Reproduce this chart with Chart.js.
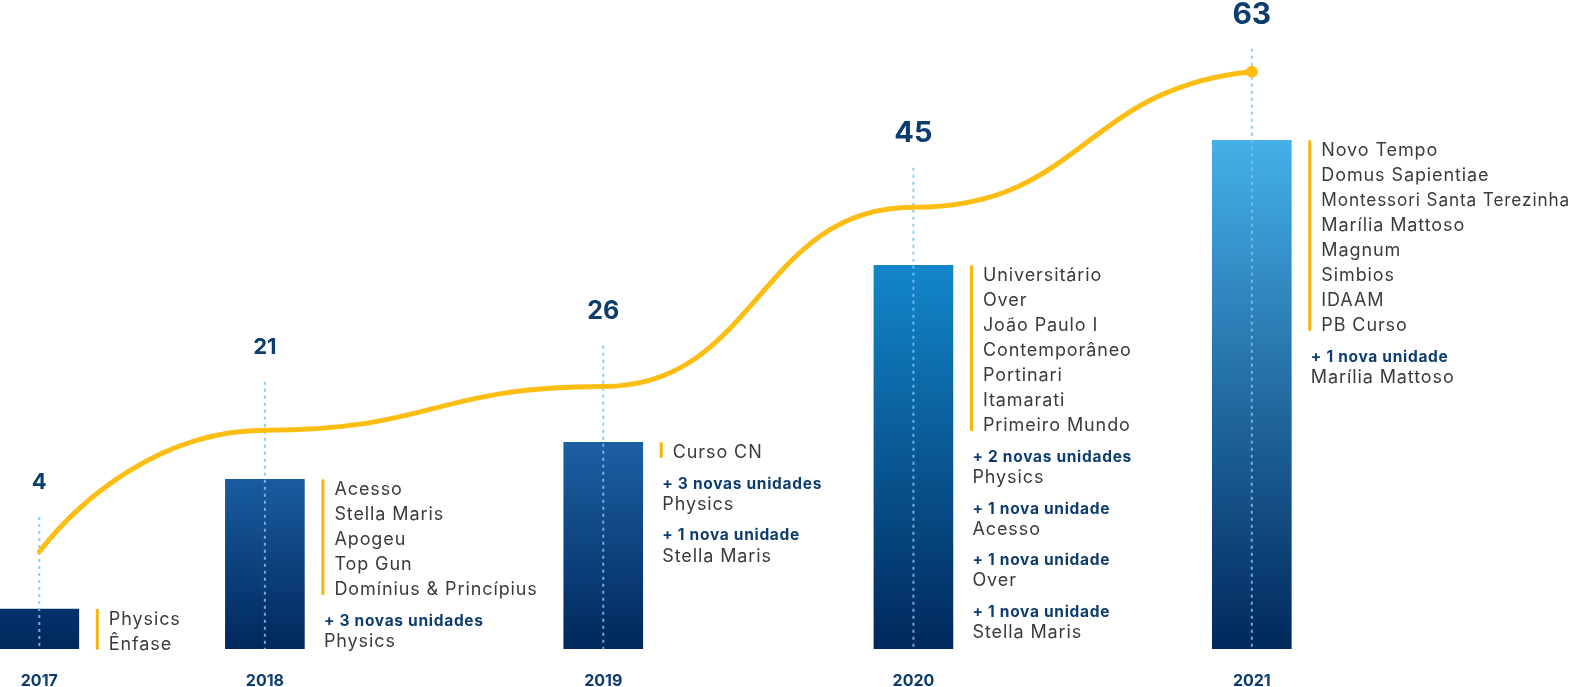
<!DOCTYPE html>
<html lang="pt-BR">
<head>
<meta charset="utf-8">
<title>Evolução das unidades</title>
<script src="https://cdn.jsdelivr.net/npm/chart.js@4.4.1/dist/chart.umd.min.js"></script>
<style>
  html, body { margin: 0; padding: 0; background: #ffffff; }
  #wrap { position: relative; width: 1571px; height: 687px; }
</style>
</head>
<body>
<div id="wrap"><canvas id="unitsChart"></canvas></div>
<script>
const years = ['2017', '2018', '2019', '2020', '2021'];
const unitCounts = [4, 21, 26, 45, 63];               // totals printed above each column
const barLevels = [4.95, 21, 25.6, 47.5, 63];         // bar heights as drawn (design is not strictly to scale)
const trendLevels = [12.05, 27.1, 32.5, 54.7, 71.5];  // yellow growth curve

const newSchools = [
    ['Physics', 'Ênfase'],
    ['Acesso', 'Stella Maris', 'Apogeu', 'Top Gun', 'Domínius & Princípius'],
    ['Curso CN'],
    ['Universitário', 'Over', 'João Paulo I', 'Contemporâneo', 'Portinari', 'Itamarati', 'Primeiro Mundo'],
    ['Novo Tempo', 'Domus Sapientiae', 'Montessori Santa Terezinha', 'Marília Mattoso', 'Magnum', 'Simbios', 'IDAAM', 'PB Curso']
];
const expansionCounts = [
    [],
    ['+ 3 novas unidades'],
    ['+ 3 novas unidades', '+ 1 nova unidade'],
    ['+ 2 novas unidades', '+ 1 nova unidade', '+ 1 nova unidade', '+ 1 nova unidade'],
    ['+ 1 nova unidade']
];
const expansionSchools = [
    [],
    ['Physics'],
    ['Physics', 'Stella Maris'],
    ['Physics', 'Acesso', 'Over', 'Stella Maris'],
    ['Marília Mattoso']
];

// --- Layout / style (the original spaces its columns unevenly) ---
const columnSlots = [0, 8, 20, 31, 43];
const totalFontSizes = [22, 22, 25, 29, 30];        // totals grow with the year
const totalLift = [128, 133.7, 132.5, 133.8, 127.5]; // total label above bar top
const barTopColors = ['#06326b', '#1a5ca0', '#1c60a4', '#1387ca', '#45b0e9'];

const navy = '#0d3c6e';
const barBottom = '#00285c';
const textGrey = '#3b3b3b';
const gold = '#fdbe14';
const accent = '#f6b60b';
const FONT = 'Inter, "Open Sans", sans-serif';

function barGradient(c) {
    const chart = c.chart;
    if (!chart.chartArea || !c.parsed) return barBottom;
    const y = chart.scales.y;
    const g = chart.ctx.createLinearGradient(0, y.getPixelForValue(c.parsed.y), 0, y.getPixelForValue(0));
    g.addColorStop(0, barTopColors[c.dataIndex]);
    g.addColorStop(1, barBottom);
    return g;
}

// flat-shouldered S curves between the yearly points
function shapeTrend(meta) {
    const pts = meta.data;
    for (let i = 0; i < pts.length - 1; i++) {
        const a = pts[i], b = pts[i + 1];
        const dx = b.x - a.x, dy = b.y - a.y;
        if (i === 0) {
            a.cp2x = a.x + dx * 0.18;
            a.cp2y = a.y + dy * 0.43;
        } else {
            a.cp2x = a.x + dx * 0.5;
            a.cp2y = a.y;
        }
        b.cp1x = b.x - dx * (i === 0 ? 0.46 : 0.5);
        b.cp1y = (i === pts.length - 2) ? b.y - dy * 0.12 : b.y;
    }
    meta.dataset._pointsUpdated = true;
}

function drawGuides(chart, meta) {
    const ctx = chart.ctx;
    const bottom = chart.chartArea.bottom;
    ctx.save();
    ctx.strokeStyle = '#7cc3ee';
    ctx.globalAlpha = 0.85;
    ctx.lineWidth = 2;
    ctx.setLineDash([3, 4]);
    meta.data.forEach((bar, i) => {
        ctx.beginPath();
        ctx.moveTo(bar.x, bar.y - totalLift[i] + 36);
        ctx.lineTo(bar.x, bottom);
        ctx.stroke();
    });
    ctx.restore();
}

function drawTexts(chart) {
    const ctx = chart.ctx;
    const bars = chart.getDatasetMeta(1).data;
    ctx.save();
    bars.forEach((bar, i) => {
        const top = bar.y;
        const right = bar.x + bar.width / 2;
        const fit = x => chart.width - x - 1;

        ctx.fillStyle = navy;
        ctx.textAlign = 'center';
        ctx.textBaseline = 'middle';
        ctx.letterSpacing = '0px';
        ctx.font = 'bold ' + totalFontSizes[i] + 'px ' + FONT;
        ctx.fillText(String(unitCounts[i]), bar.x, top - totalLift[i] + totalFontSizes[i] * 0.065);
        ctx.font = 'bold 16px ' + FONT;
        ctx.fillText(years[i], bar.x, 681);

        // list of new schools with the yellow accent rule
        const list = newSchools[i];
        ctx.fillStyle = accent;
        ctx.fillRect(right + 17, top, 3, 15.5 + 25 * (list.length - 1));

        ctx.textAlign = 'left';
        ctx.textBaseline = 'alphabetic';
        ctx.fillStyle = textGrey;
        ctx.font = '18px ' + FONT;
        ctx.letterSpacing = '0.9px';
        let cy = top + 9;
        list.forEach((name, k) => {
            cy = top + 9 + 25 * k;
            ctx.fillText(name, right + 30, cy + 6.5, fit(right + 30));
        });

        // expansions of existing schools
        expansionCounts[i].forEach((label, k) => {
            cy += (k === 0) ? 32 : 31;
            ctx.fillStyle = navy;
            ctx.font = 'bold 15.5px ' + FONT;
            ctx.letterSpacing = '0.7px';
            ctx.fillText(label, right + 19.5, cy + 5.6);
            cy += 20.5;
            ctx.fillStyle = textGrey;
            ctx.font = '18px ' + FONT;
            ctx.letterSpacing = '0.9px';
            ctx.fillText(expansionSchools[i][k], right + 19.5, cy + 6.5);
        });
    });
    ctx.restore();
}

const annotate = {
    id: 'annotate',
    beforeDatasetDraw(chart, args) {
        if (args.index === 0) shapeTrend(args.meta);
    },
    afterDatasetDraw(chart, args) {
        if (args.index === 1) drawGuides(chart, args.meta);
    },
    afterDraw(chart) {
        drawTexts(chart);
    }
};

new Chart(document.getElementById('unitsChart'), {
    data: {
        labels: years,
        datasets: [
            {
                type: 'line',
                data: years.map((y, i) => ({ x: columnSlots[i], y: trendLevels[i] })),
                borderColor: gold,
                borderWidth: 5,
                borderCapStyle: 'round',
                tension: 0.4,
                pointRadius: years.map((y, i) => (i === years.length - 1 ? 6 : 0)),
                pointBackgroundColor: gold,
                pointBorderWidth: 0,
                order: 0
            },
            {
                type: 'bar',
                data: years.map((y, i) => ({ x: columnSlots[i], y: barLevels[i] })),
                backgroundColor: barGradient,
                barThickness: 79,
                order: 1
            }
        ]
    },
    options: {
        responsive: true,
        maintainAspectRatio: false,
        animation: false,
        layout: { autoPadding: false, padding: { top: 3, bottom: 38, left: 0, right: 0 } },
        scales: {
            x: { type: 'linear', display: false, offset: false, min: -1.394, max: 54.32 },
            y: { display: false, min: 0, max: 80 }
        },
        plugins: {
            legend: { display: false },
            tooltip: { enabled: false }
        }
    },
    plugins: [annotate]
});
</script>
</body>
</html>
